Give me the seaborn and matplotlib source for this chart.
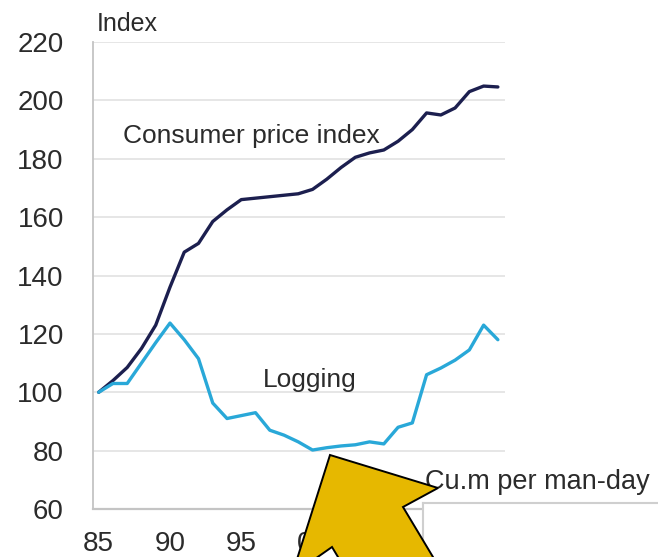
import matplotlib
matplotlib.use("Agg")
import matplotlib.pyplot as plt
from matplotlib.patches import Polygon
import seaborn as sns
import pandas as pd

# ------------------------------------------
# DATA
# ------------------------------------------
years = list(range(1985, 2014))
cpi = [100, 104, 108.5, 115, 123, 136, 148, 151, 158.5, 162.5,
       166, 166.5, 167, 167.5, 168, 169.5, 173, 177, 180.5, 182,
       183, 186, 190, 195.7, 195, 197.4, 203, 204.9, 204.6]
logging = [100, 103, 103, 110, 117, 123.7, 118, 111.5, 96.3, 91,
           92, 93, 87, 85.3, 83, 80.2, 81, 81.6, 82, 83,
           82.3, 88, 89.5, 106, 108.3, 111, 114.5, 123, 118]
xtick_years = [1985, 1990, 1995, 2000, 2005, 2010]
xtick_labels = ["85", "90", "95", "00", "05", "10"]
ytick_values = [60, 80, 100, 120, 140, 160, 180, 200, 220]

df = pd.DataFrame({"year": years, "cpi": cpi, "logging": logging})

sns.set_theme(style="white")
plt.rcParams["font.family"] = ["Liberation Sans", "DejaVu Sans"]

W, H = 658, 557
fig = plt.figure(figsize=(W / 100, H / 100), dpi=100)


def fpx(x, y):
    # image pixel -> figure fraction
    return (x / W, 1 - y / H)


ax = fig.add_axes([93 / W, (H - 509) / H, (505 - 93) / W, (509 - 42) / H])

sns.lineplot(data=df, x="year", y="cpi", ax=ax, color="#1c1f4f", linewidth=2.4)
sns.lineplot(data=df, x="year", y="logging", ax=ax, color="#29a8d8", linewidth=2.4)

ax.set_xlim(1984.6, 2013.5)
ax.set_ylim(60, 220)
ax.set_xticks(xtick_years)
ax.set_xticklabels(xtick_labels)
ax.set_yticks(ytick_values)
ax.set_xlabel("")
ax.set_ylabel("")
ax.tick_params(axis="y", length=0, pad=21, labelsize=20, labelcolor="#2b2b2b")
ax.tick_params(axis="x", length=0, pad=16, labelsize=20, labelcolor="#2b2b2b")

ax.yaxis.grid(True, color="#e2e2e2", linewidth=1.2)
ax.xaxis.grid(False)
ax.set_axisbelow(True)
for side in ["top", "right"]:
    ax.spines[side].set_visible(False)
ax.spines["left"].set_color("#c4c4c4")
ax.spines["left"].set_linewidth(1.3)
ax.spines["bottom"].set_color("#c4c4c4")
ax.spines["bottom"].set_linewidth(1.6)

ax.text(1986.7, 187.8, "Consumer price index", fontsize=19, color="#2b2b2b",
        ha="left", va="center")
ax.text(1996.5, 104.2, "Logging", fontsize=19, color="#2b2b2b",
        ha="left", va="center")
fig.text(*fpx(97, 24), "Index", fontsize=18, color="#2b2b2b", ha="left", va="center")

# next panel peeking in at the bottom right
box = fig.add_axes([423 / W, 0, (W - 423) / W, (H - 503) / H])
box.set_zorder(5)
box.set_facecolor("white")
box.set_xticks([])
box.set_yticks([])
for side in ["bottom", "right"]:
    box.spines[side].set_visible(False)
for side in ["left", "top"]:
    box.spines[side].set_color("#cfcfcf")
    box.spines[side].set_linewidth(1.5)
fig.text(*fpx(425, 482), "Cu.m per man-day", fontsize=19.5, color="#2b2b2b",
         ha="left", va="center", zorder=6)

# yellow callout arrow overlay
arrow_px = [(330, 455), (438, 488), (403, 507), (463, 607),
            (368, 607), (332, 547), (292, 575)]
arrow = Polygon([fpx(x, y) for x, y in arrow_px], closed=True,
                transform=fig.transFigure, facecolor="#e6b800",
                edgecolor="black", linewidth=1.4, zorder=10)
fig.add_artist(arrow)

plt.savefig("out.png", dpi=100)
